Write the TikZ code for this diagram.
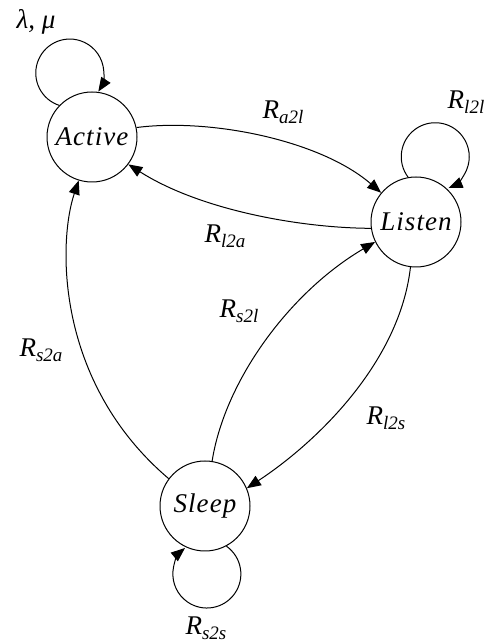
\documentclass[tikz,border=0pt]{standalone}
\usepackage{fontspec}
\setmainfont{Liberation Serif}[ItalicFont={Liberation Serif Italic}]
\usetikzlibrary{arrows.meta}
\newcommand{\mysub}[2]{#1\raisebox{-5pt}{\fontsize{19}{19}\selectfont #2}}
\begin{document}
\begin{tikzpicture}[x=1pt,y=1pt,
  state/.style={draw, circle, minimum size=90pt, inner sep=0pt, line width=1pt,
    font=\fontsize{27}{30}\selectfont\itshape\addfontfeatures{LetterSpace=4}},
  lab/.style={font=\fontsize{27}{30}\selectfont\itshape, inner sep=0pt},
  edge/.style={line width=1pt, -{Triangle[length=14pt,width=11pt]}}]
\useasboundingbox (0,0) rectangle (487,642);
\node[state] (A) at (92,505) {Active};
\node[state] (L) at (416,420) {Listen};
\node[state] (S) at (205,136) {Sleep};
% edges
\draw[edge] (A.12) .. controls (210,524) and (320,502) .. (L.140);
\draw[edge] (L.188) .. controls (300,414) and (200,432) .. (A.-37);
\draw[edge] (S.81) .. controls (225,262) and (290,350) .. (L.206);
\draw[edge] (L.263) .. controls (400,282) and (320,202) .. (S.23);
\draw[edge] (S.143) .. controls (55,260) and (58,400) .. (A.-107);
% loops
\draw[edge] (A.136) arc[start angle=252, end angle=-33, radius=34pt];
\draw[edge] (L.100) arc[start angle=217, end angle=-67, radius=34pt];
\draw[edge] (S.-62) arc[start angle=55, end angle=-230, radius=34pt];
% labels
\node[lab] (lam) at (36,620) {λ, μ};
\node[lab] (ra2l) at (283,530) {\mysub{R}{a2l}};
\node[lab] (rl2a) at (225,406) {\mysub{R}{l2a}};
\node[lab] (rs2l) at (239,331) {\mysub{R}{s2l}};
\node[lab] (rl2s) at (386,224) {\mysub{R}{l2s}};
\node[lab] (rs2a) at (41,292) {\mysub{R}{s2a}};
\node[lab] (rl2l) at (466,540) {\mysub{R}{l2l}};
\node[lab] (rs2s) at (206,14) {\mysub{R}{s2s}};
\end{tikzpicture}
\end{document}
